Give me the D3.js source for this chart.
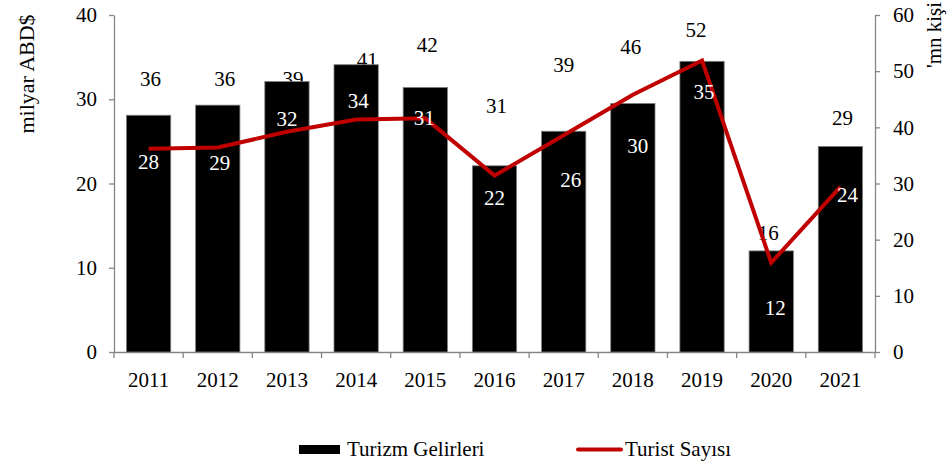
<!DOCTYPE html>
<html>
<head>
<meta charset="utf-8">
<script src="https://cdn.jsdelivr.net/npm/d3@7"></script>
<style>
  body { margin: 0; background: #fff; }
  svg text { font-family: "Liberation Serif", "Times New Roman", Times, "DejaVu Serif", serif !important; }
</style>
</head>
<body>
<div id="main1"></div>
<script>

// data
var years = ["2011", "2012", "2013", "2014", "2015", "2016", "2017", "2018", "2019", "2020", "2021"];
var gelirler = [28.1, 29.3, 32.1, 34.1, 31.4, 22.1, 26.2, 29.5, 34.5, 12.0, 24.4];   // milyar ABD$
var turistler = [36.2, 36.4, 39.2, 41.4, 41.6, 31.4, 38.6, 45.8, 51.9, 15.9, 29.4];  // 'mn kişi
var leftTicks = [0, 10, 20, 30, 40];
var rightTicks = [0, 10, 20, 30, 40, 50, 60];

// the labels were moved by hand in the original, so keep their nudges (px, from the point)
var gelirLabelShift = [[0, 54], [2, 65], [0, 44], [2, 43], [-1, 38], [0, 39], [7, 56], [5, 50], [2, 38], [4, 64], [7, 56]];
var turistLabelShift = [[2, -63], [7, -62], [6, -46], [11, -52], [2, -66], [2, -63], [0, -63], [-2, -41], [-6, -23], [-3, -23], [2, -62]];

var axisColor = "#868686";
var lineColor = "#c00000";
var serif = "'Liberation Serif', 'Times New Roman', Times, 'DejaVu Serif', serif";
var fontSize = 21;

// set the dimensions and margins of the graph
var margin = {top: 15, right: 72, bottom: 113, left: 114},
    width = 947 - margin.left - margin.right,
    height = 465 - margin.top - margin.bottom;

var root = d3.select("#main1")
  .append("svg")
    .attr("width", width + margin.left + margin.right)
    .attr("height", height + margin.top + margin.bottom)
    .attr("font-family", serif);

var svg = root.append("g")
    .attr("transform", "translate(" + margin.left + "," + margin.top + ")");

// scales
var x = d3.scaleBand()
  .domain(years)
  .range([0, width])
  .paddingInner(0.36)
  .paddingOuter(0.18);

var yLeft = d3.scaleLinear().domain([0, 40]).range([height, 0]);
var yRight = d3.scaleLinear().domain([0, 60]).range([height, 0]);

function styleAxis(g) {
  g.attr("font-family", serif).attr("font-size", fontSize);
  g.selectAll("path, line").attr("stroke", axisColor).attr("stroke-width", 1.3);
  g.selectAll("text").attr("fill", "#000");
}

// left axis
svg.append("g")
  .call(d3.axisLeft(yLeft).tickValues(leftTicks).tickSize(5).tickSizeOuter(0).tickPadding(12))
  .call(styleAxis);

// right axis
svg.append("g")
  .attr("transform", "translate(" + width + ",0)")
  .call(d3.axisRight(yRight).tickValues(rightTicks).tickSize(5).tickSizeOuter(0).tickPadding(13))
  .call(styleAxis);

// bottom axis, ticks sit between the categories
var xAxis = svg.append("g")
  .attr("transform", "translate(0," + height + ")")
  .call(d3.axisBottom(x).tickSize(0).tickSizeOuter(0).tickPadding(20))
  .call(styleAxis);

xAxis.selectAll(".sep")
  .data(d3.range(years.length + 1))
  .enter()
  .append("line")
    .attr("class", "sep")
    .attr("x1", function(i) { return i * x.step(); })
    .attr("x2", function(i) { return i * x.step(); })
    .attr("y1", 0)
    .attr("y2", 6)
    .attr("stroke", axisColor)
    .attr("stroke-width", 1.3);

// line labels are behind the bars in the original
svg.selectAll(".tLabel")
  .data(turistler)
  .enter()
  .append("text")
    .attr("class", "tLabel")
    .attr("x", function(d, i) { return x(years[i]) + x.bandwidth() / 2 + turistLabelShift[i][0]; })
    .attr("y", function(d, i) { return yRight(d) + turistLabelShift[i][1]; })
    .attr("text-anchor", "middle")
    .attr("font-size", fontSize)
    .attr("fill", "#000")
    .text(function(d) { return Math.round(d); });

// bars
svg.selectAll("rect.bar")
  .data(gelirler)
  .enter()
  .append("rect")
    .attr("class", "bar")
    .attr("x", function(d, i) { return x(years[i]); })
    .attr("y", function(d) { return yLeft(d); })
    .attr("width", x.bandwidth())
    .attr("height", function(d) { return height - yLeft(d); })
    .attr("fill", "#000")
    .attr("stroke", "#7f7f7f")
    .attr("stroke-width", 0.8);

// line
var line = d3.line()
  .x(function(d, i) { return x(years[i]) + x.bandwidth() / 2; })
  .y(function(d) { return yRight(d); });

svg.append("path")
  .datum(turistler)
  .attr("d", line)
  .attr("fill", "none")
  .attr("stroke", lineColor)
  .attr("stroke-width", 4)
  .attr("stroke-linejoin", "miter");

// bar labels
svg.selectAll(".gLabel")
  .data(gelirler)
  .enter()
  .append("text")
    .attr("class", "gLabel")
    .attr("x", function(d, i) { return x(years[i]) + x.bandwidth() / 2 + gelirLabelShift[i][0]; })
    .attr("y", function(d, i) { return yLeft(d) + gelirLabelShift[i][1]; })
    .attr("text-anchor", "middle")
    .attr("font-size", fontSize)
    .attr("fill", "#fff")
    .text(function(d) { return Math.round(d); });

// axis titles
root.append("text")
  .attr("transform", "translate(34,74) rotate(-90)")
  .attr("text-anchor", "middle")
  .attr("font-size", 22)
  .text("milyar ABD$");

root.append("text")
  .attr("transform", "translate(941,35) rotate(-90)")
  .attr("text-anchor", "middle")
  .attr("font-size", fontSize)
  .text("'mn kişi");

// legend
var legend = root.append("g");

legend.append("rect")
  .attr("x", 299).attr("y", 445)
  .attr("width", 41).attr("height", 9)
  .attr("fill", "#000");

legend.append("text")
  .attr("x", 347).attr("y", 456)
  .attr("font-size", fontSize)
  .text("Turizm Gelirleri");

legend.append("line")
  .attr("x1", 578).attr("x2", 621)
  .attr("y1", 449.5).attr("y2", 449.5)
  .attr("stroke", lineColor)
  .attr("stroke-width", 4)
  .attr("stroke-linecap", "round");

legend.append("text")
  .attr("x", 625).attr("y", 456)
  .attr("font-size", fontSize)
  .text("Turist Sayısı");

</script>
</body>
</html>
